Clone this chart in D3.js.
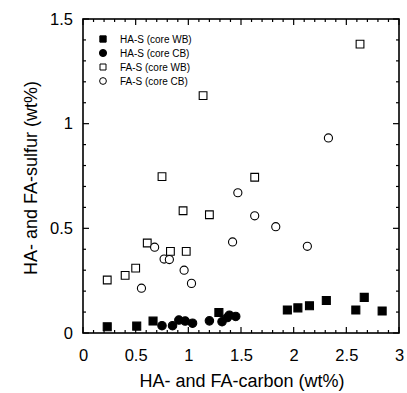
<!DOCTYPE html>
<html>
<head>
<meta charset="utf-8">
<title>HA/FA sulfur vs carbon</title>
<style>
  body { margin: 0; background: #fff; }
  text { font-family: "Liberation Sans", Arial, sans-serif; fill: #000; }
</style>
</head>
<body>
<svg width="407" height="393"></svg>
<script src="https://d3js.org/d3.v7.min.js"></script>
<script>
// HA-S (core WB), filled squares
var haWB_c = [0.23, 0.51, 0.665, 1.29, 1.94, 2.04, 2.15, 2.31, 2.59, 2.67, 2.84];
var haWB_s = [0.03, 0.033, 0.057, 0.098, 0.11, 0.12, 0.13, 0.155, 0.11, 0.17, 0.105];
// HA-S (core CB), filled circles
var haCB_c = [0.75, 0.85, 0.91, 0.97, 1.04, 1.20, 1.32, 1.37, 1.39, 1.45];
var haCB_s = [0.035, 0.035, 0.062, 0.057, 0.047, 0.058, 0.054, 0.074, 0.085, 0.079];
// FA-S (core WB), open squares
var faWB_c = [0.23, 0.40, 0.50, 0.61, 0.75, 0.83, 0.95, 0.98, 1.14, 1.20, 1.63, 2.63];
var faWB_s = [0.253, 0.275, 0.31, 0.43, 0.747, 0.39, 0.584, 0.39, 1.134, 0.565, 0.744, 1.38];
// FA-S (core CB), open circles
var faCB_c = [0.555, 0.68, 0.77, 0.82, 0.96, 1.03, 1.42, 1.47, 1.63, 1.83, 2.13, 2.33];
var faCB_s = [0.214, 0.41, 0.353, 0.351, 0.30, 0.237, 0.435, 0.67, 0.56, 0.508, 0.414, 0.932];

var legendLabels = ["HA-S (core WB)", "HA-S (core CB)", "FA-S (core WB)", "FA-S (core CB)"];
var xTicks = [0, 0.5, 1, 1.5, 2, 2.5, 3];
var yTicks = [0, 0.5, 1, 1.5];

var svg = d3.select("svg"),
    pl = 83, pr = 399, pt = 19, pb = 333;

var x = d3.scaleLinear().domain([0, 3]).range([pl, pr]);
var y = d3.scaleLinear().domain([0, 1.5]).range([pb, pt]);

function notMajor(v) { return Math.abs(v * 2 - Math.round(v * 2)) > 1e-6; }
var minorX = d3.range(0, 3.0001, 0.1).filter(notMajor);
var minorY = d3.range(0, 1.5001, 0.1).filter(notMajor);

// inward ticks on all four sides
function sideTicks(scale, vals, len, orient) {
  svg.append("g").selectAll("line").data(vals).enter().append("line")
    .attr("stroke", "#000").attr("stroke-width", 1.2)
    .each(function(d) {
      var s = d3.select(this), p = scale(d);
      if (orient === "bottom") s.attr("x1", p).attr("x2", p).attr("y1", pb).attr("y2", pb - len);
      if (orient === "top") s.attr("x1", p).attr("x2", p).attr("y1", pt).attr("y2", pt + len);
      if (orient === "left") s.attr("y1", p).attr("y2", p).attr("x1", pl).attr("x2", pl + len);
      if (orient === "right") s.attr("y1", p).attr("y2", p).attr("x1", pr).attr("x2", pr - len);
    });
}
["bottom", "top"].forEach(function(o) {
  sideTicks(x, xTicks, 6, o);
  sideTicks(x, minorX, 3, o);
});
["left", "right"].forEach(function(o) {
  sideTicks(y, yTicks, 6, o);
  sideTicks(y, minorY, 3, o);
});

// frame
svg.append("rect")
  .attr("x", pl).attr("y", pt)
  .attr("width", pr - pl).attr("height", pb - pt)
  .attr("fill", "none").attr("stroke", "#000").attr("stroke-width", 1.6);

// tick labels via d3 axes (no lines)
var xAxis = svg.append("g").attr("transform", "translate(0," + (pb + 10) + ")")
  .call(d3.axisBottom(x).tickValues(xTicks).tickSize(0).tickPadding(6).tickFormat(d3.format("")));
var yAxis = svg.append("g").attr("transform", "translate(" + (pl - 10) + ",0)")
  .call(d3.axisLeft(y).tickValues(yTicks).tickSize(0).tickPadding(0).tickFormat(d3.format("")));
[xAxis, yAxis].forEach(function(g) {
  g.select(".domain").remove();
  g.attr("font-size", null).attr("font-family", null);
  g.selectAll("text").style("font-size", "16.5px");
});

// axis titles
svg.append("text")
  .attr("x", (pl + pr) / 2 + 1).attr("y", 387)
  .attr("text-anchor", "middle").style("font-size", "18px")
  .text("HA- and FA-carbon (wt%)");
svg.append("text")
  .attr("transform", "translate(37," + ((pt + pb) / 2 + 2) + ") rotate(-90)")
  .attr("text-anchor", "middle").style("font-size", "18px")
  .text("HA- and FA-sulfur (wt%)");

// markers
function zip(a, b) { return a.map(function(v, i) { return [v, b[i]]; }); }

var series = [
  { data: zip(faWB_c, faWB_s), type: d3.symbolSquare, size: 60, fill: "#fff" },
  { data: zip(faCB_c, faCB_s), type: d3.symbolCircle, size: 52, fill: "#fff" },
  { data: zip(haWB_c, haWB_s), type: d3.symbolSquare, size: 64, fill: "#000" },
  { data: zip(haCB_c, haCB_s), type: d3.symbolCircle, size: 56, fill: "#000" }
];
series.forEach(function(s) {
  svg.append("g").selectAll("path").data(s.data).enter().append("path")
    .attr("d", d3.symbol().type(s.type).size(s.size))
    .attr("transform", function(d) { return "translate(" + x(d[0]) + "," + y(d[1]) + ")"; })
    .attr("fill", s.fill).attr("stroke", "#000").attr("stroke-width", 1.1);
});

// legend
var legType = [d3.symbolSquare, d3.symbolCircle, d3.symbolSquare, d3.symbolCircle],
    legFill = ["#000", "#000", "#fff", "#fff"];
var leg = svg.append("g");
legendLabels.forEach(function(lab, i) {
  var yy = 39 + i * 14;
  leg.append("path").attr("d", d3.symbol().type(legType[i]).size(i < 2 ? 40 : 36)())
    .attr("transform", "translate(103," + yy + ")")
    .attr("fill", legFill[i]).attr("stroke", "#000").attr("stroke-width", 1);
  leg.append("text").attr("x", 120).attr("y", yy + 3.5)
    .style("font-size", "10px").text(lab);
});
</script>
</body>
</html>
